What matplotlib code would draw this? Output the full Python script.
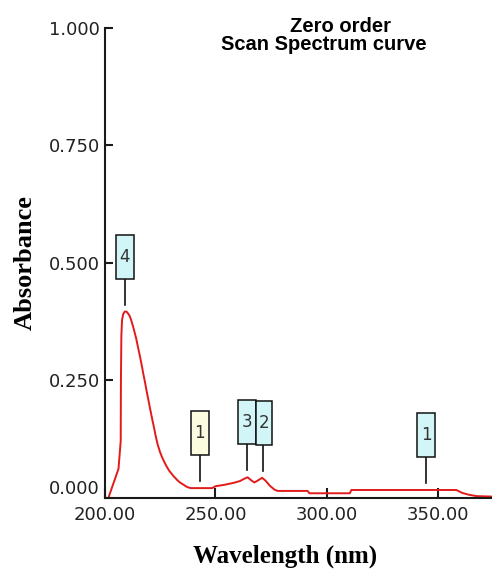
import matplotlib
matplotlib.use("Agg")
import matplotlib.pyplot as plt
from matplotlib.patches import Rectangle

# Spectrum (wavelength nm, absorbance)
wavelength = [201.8, 206.3, 207.3, 207.4, 207.6, 207.9, 208.4, 209.1, 209.9, 210.6,
              211.3, 212.0, 212.7, 213.5, 214.3, 215.1, 216.0, 216.8, 217.5, 218.3,
              219.0, 219.8, 220.5, 221.4, 222.3, 223.1, 224.0, 225.0, 226.0, 227.0,
              228.0, 229.0, 230.0, 231.0, 232.0, 233.0, 234.0, 235.0, 236.0, 237.0,
              238.0, 239.0, 240.0, 248.5, 250.0, 254.0, 258.0, 261.0, 263.0, 264.5,
              266.0, 267.5, 269.0, 271.0, 272.5, 274.5, 276.5, 278.0, 291.5, 292.3,
              310.5, 311.2, 358.5, 361.0, 364.0, 367.5, 374.3]
absorbance = [0.000, 0.061, 0.120, 0.250, 0.345, 0.378, 0.390, 0.396, 0.396, 0.392,
              0.387, 0.378, 0.367, 0.353, 0.338, 0.320, 0.300, 0.281, 0.263, 0.244,
              0.226, 0.207, 0.190, 0.169, 0.149, 0.130, 0.112, 0.097, 0.085, 0.075,
              0.066, 0.058, 0.052, 0.046, 0.041, 0.036, 0.032, 0.029, 0.026, 0.023,
              0.021, 0.020, 0.020, 0.020, 0.024, 0.027, 0.031, 0.035, 0.040, 0.043,
              0.037, 0.032, 0.036, 0.042, 0.036, 0.025, 0.017, 0.014, 0.014, 0.009,
              0.009, 0.016, 0.016, 0.010, 0.006, 0.003, 0.002]

# Peak/valley markers
peak_labels = ["4", "1", "3", "2", "1"]
peak_wl = [209.1, 242.8, 264.2, 271.3, 345.0]
peak_abs = [0.396, 0.020, 0.043, 0.042, 0.016]
peak_kind = ["peak", "valley", "peak", "peak", "peak"]

y_ticks = [0.0, 0.25, 0.5, 0.75, 1.0]
x_ticks = [200, 250, 300, 350]

C_LINE = "#e31a1a"
C_PEAK = "#d2f6f8"
C_VALLEY = "#fbfbdf"
C_TEXT = "#222222"

fig = plt.figure(figsize=(4.92, 5.72), dpi=100)
ax = fig.add_axes([104.5 / 492, 74.5 / 572, 387.5 / 492, 469.5 / 572])
xmax = 200 + 387.5 / 2.22
ax.set_xlim(200, xmax)
ax.set_ylim(0, 1.0)

ax.plot(wavelength, absorbance, color=C_LINE, lw=1.4, solid_joinstyle="round")

# marker geometry in data units (from pixel sizes)
px_x = (xmax - 200) / 387.5
px_y = 1.0 / 469.5
box_w, box_h = 18 * px_x, 44 * px_y
gap, stem = 7 * px_y, 26 * px_y

prev_right = None
for lab, wl, a, kind in zip(peak_labels, peak_wl, peak_abs, peak_kind):
    y0 = a + gap
    y1 = y0 + stem
    ax.plot([wl, wl], [y0, y1], color="#111", lw=1.2)
    left = wl - box_w / 2
    right = wl + box_w / 2
    if prev_right is not None and left < prev_right < right:
        left = prev_right
    face = C_PEAK if kind == "peak" else C_VALLEY
    ax.add_patch(Rectangle((left, y1), right - left, box_h, facecolor=face,
                           edgecolor="#111", lw=1.1, zorder=3))
    ax.text((left + right) / 2, y1 + box_h / 2, lab, ha="center", va="center",
            fontsize=12, color="#333", zorder=4)
    prev_right = right

for s in ("top", "right"):
    ax.spines[s].set_visible(False)
for s in ("left", "bottom"):
    ax.spines[s].set_linewidth(1.5)
    ax.spines[s].set_color("#1a1a1a")

ax.set_yticks(y_ticks)
ax.set_yticklabels([f"{v:.3f}" for v in y_ticks])
ax.set_xticks(x_ticks)
ax.set_xticklabels([f"{v:.2f}" for v in x_ticks])
ax.tick_params(axis="y", direction="in", length=6, width=1.5, pad=3.5,
               labelsize=13, labelcolor=C_TEXT, color="#1a1a1a")
ax.tick_params(axis="x", direction="in", length=7, width=1.5, pad=6,
               labelsize=13, labelcolor=C_TEXT, color="#1a1a1a")
ax.get_yticklabels()[0].set_va("bottom")

serif = ["Liberation Serif", "DejaVu Serif"]
fig.text(25 / 492, 1 - 263 / 572, "Absorbance", rotation=90, ha="center", va="center",
         fontsize=19, fontweight="bold", family=serif)
fig.text(285 / 492, 1 - 556 / 572, "Wavelength (nm)", ha="center", va="center",
         fontsize=18, fontweight="bold", family=serif)

sans = ["Liberation Sans", "DejaVu Sans"]
fig.text(340 / 492, 1 - 26 / 572, "Zero order", ha="center", va="center",
         fontsize=14.5, fontweight="bold", family=sans)
fig.text(324 / 492, 1 - 44 / 572, "Scan Spectrum curve", ha="center", va="center",
         fontsize=14.5, fontweight="bold", family=sans)

fig.savefig("out.png", dpi=100)
